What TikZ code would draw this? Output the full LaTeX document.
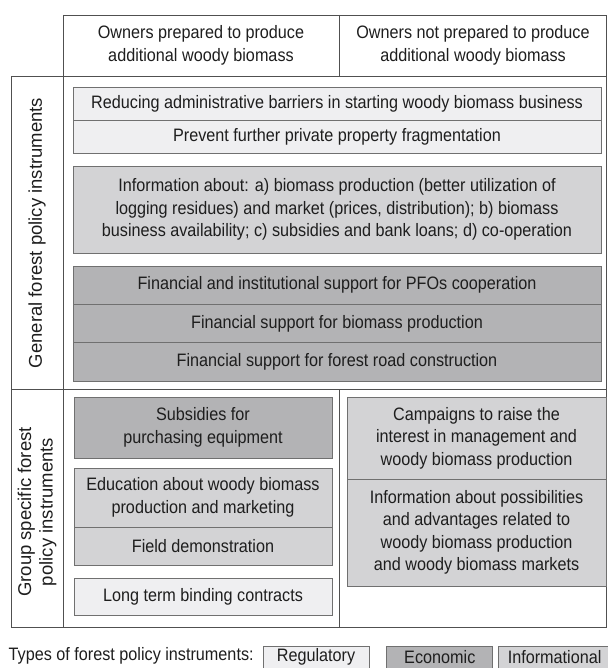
\documentclass[tikz,border=0pt]{standalone}
\usepackage{fontspec}
\setmainfont{Liberation Sans}[FakeStretch=0.9]
\newfontfamily\sidefont{Liberation Sans}
\usetikzlibrary{positioning}
\definecolor{creg}{HTML}{EFEFF1}
\definecolor{cinf}{HTML}{D3D3D5}
\definecolor{ceco}{HTML}{B3B3B5}
\definecolor{cedge}{HTML}{707070}
\definecolor{cframe}{HTML}{505050}
\definecolor{ctext}{HTML}{1E1E1E}
\tikzset{
  every picture/.style={font=\fontsize{18}{22.5}\selectfont, line width=0.8pt},
  box/.style={draw=cedge, fill=#1, align=center, inner sep=0pt, text=ctext},
  box/.default=creg,
  wide/.style={minimum width=528pt},
  half/.style={minimum width=258pt},
  frame/.style={draw=cframe, line width=0.9pt},
  head/.style={align=center, text=ctext},
  side/.style={align=center, text=ctext, rotate=90, font=\sidefont\fontsize{18.5}{21.5}\selectfont},
}

\begin{document}
\begin{tikzpicture}[x=1pt, y=-1pt]
  \useasboundingbox (0,0) rectangle (607,668);
  % table frame
  \draw[frame] (63,15) -- (606.5,15) -- (606.5,627) -- (11,627) -- (11,76) -- (606.5,76);
  \draw[frame] (63,15) -- (63,627);
  \draw[frame] (11,389) -- (606.5,389);
  \draw[frame] (339,15) -- (339,76) (339,389) -- (339,627);
  % column and row heads
  \node[head] (own1) at (201,45.5) {Owners prepared to produce\\additional woody biomass};
  \node[head] (own2) at (473,45.5) {Owners not prepared to produce\\additional woody biomass};
  \node[side] (gen) at (37,233) {General forest policy instruments};
  \node[side] (grp) at (37,512) {Group specific forest\\policy instruments};
  % general instruments
  \foreach \t [count=\j] in {Reducing administrative barriers in starting woody biomass business,
    Prevent further private property fragmentation}
    \node[box=creg, wide, minimum height=33pt] (reg\j) at (337, 70.5+33*\j) {\t};
  \node[box=cinf, wide, minimum height=87pt] (inf1) at (337,209.5)
    {Information about: a) biomass production (better utilization of\\logging residues) and market (prices, distribution); b) biomass\\business availability; c) subsidies and bank loans; d) co-operation};
  \foreach \t [count=\j] in {Financial and institutional support for PFOs cooperation,
    Financial support for biomass production, Financial support for forest road construction}
    \node[box=ceco, wide, minimum height=38.33pt] (eco\j) at (337, 246.83+38.33*\j) {\t};
  % group specific instruments, left column
  \node[box=ceco, half, minimum height=61pt] (sub) at (203,427.5) {Subsidies for\\purchasing equipment};
  \node[box=cinf, half, minimum height=59pt] (edu) at (203,497.5) {Education about woody biomass\\production and marketing};
  \node[box=cinf, half, minimum height=38pt] (fld) at (203,546) {Field demonstration};
  \node[box=creg, half, minimum height=37pt] (ltc) at (203,596.5) {Long term binding contracts};
  % group specific instruments, right column
  \node[box=cinf, minimum width=259pt, minimum height=82pt] (cmp) at (476.5,438) {Campaigns to raise the\\interest in management and\\woody biomass production};
  \node[box=cinf, minimum width=259pt, minimum height=107pt] (pos) at (476.5,532.5) {Information about possibilities\\and advantages related to\\woody biomass production\\and woody biomass markets};
  % legend
  \node[anchor=west, text=ctext] (lgt) at (5,656) {Types of forest policy instruments:};
  \node[box=creg, minimum width=106pt, minimum height=22pt] (lg1) at (316,657) {Regulatory};
  \node[box=ceco, minimum width=106pt, minimum height=22pt, right=17pt of lg1] (lg2) {Economic};
  \node[box=cinf, minimum width=112pt, minimum height=22pt, right=5pt of lg2] (lg3) {Informational};
\end{tikzpicture}
\end{document}
